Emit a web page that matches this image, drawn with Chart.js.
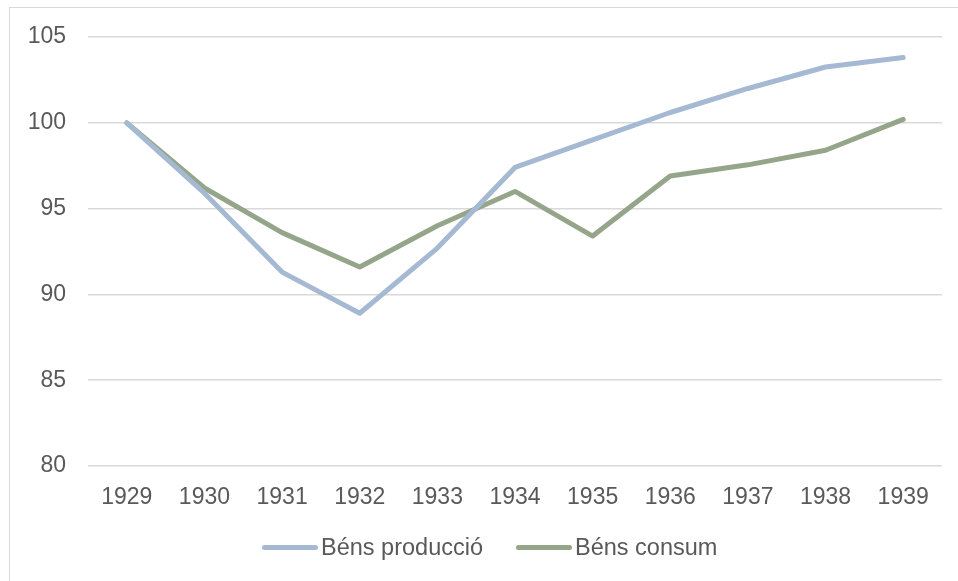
<!DOCTYPE html>
<html>
<head>
<meta charset="utf-8">
<script src="https://cdn.jsdelivr.net/npm/chart.js@4.4.1/dist/chart.umd.min.js"></script>
<style>
  html,body{margin:0;padding:0;background:#fff;overflow:hidden;}
  #wrap{position:relative;width:958px;height:581px;}
  #frame{position:absolute;left:9px;top:7px;width:1000px;height:700px;border:1.5px solid #d9d9d9;box-sizing:border-box;}
  #c{position:absolute;left:0;top:0;}
  #legend{position:absolute;left:262px;top:534px;display:flex;align-items:center;font-family:"Liberation Sans",Arial,sans-serif;font-size:23.5px;color:#595959;}
  #legend .item{display:flex;align-items:center;margin-right:33px;}
  #legend .sw{display:inline-block;width:56px;height:5px;border-radius:3px;margin-right:3px;}
</style>
</head>
<body>
<div id="wrap">
  <div id="frame"></div>
  <canvas id="c" width="958" height="581"></canvas>
  <div id="legend"></div>
</div>
<script>
// anys
const years=['1929','1930','1931','1932','1933','1934','1935','1936','1937','1938','1939'];
// índex 1929 = 100
const bensProduccio=[100,95.9,91.3,88.9,92.7,97.4,99.0,100.6,102.0,103.25,103.8];
const bensConsum   =[100,96.2,93.6,91.6,94.0,96.0,93.4,96.9,97.55,98.4,100.2];
const seriesNames=['Béns producció','Béns consum'];
const seriesColors=['#a5b9d2','#95a589'];
const yTicks=[80,85,90,95,100,105];

const font={family:'"Liberation Sans", Arial, sans-serif',size:23};

new Chart(document.getElementById('c'),{
  type:'line',
  data:{
    labels:years,
    datasets:[bensProduccio,bensConsum].map((d,i)=>({
      label:seriesNames[i],
      data:d,
      borderColor:seriesColors[i],
      backgroundColor:seriesColors[i],
      borderWidth:5,
      pointRadius:0,
      borderCapStyle:'round',
      borderJoinStyle:'round',
      tension:0,
    }))
  },
  options:{
    responsive:false,
    animation:false,
    layout:{padding:{top:37,right:16,bottom:55,left:0}},
    plugins:{legend:{display:false},tooltip:{enabled:false}},
    scales:{
      x:{
        offset:true,
        grid:{display:false},
        border:{display:false},
        ticks:{font,color:'#595959',padding:10,maxRotation:0,autoSkip:false},
        afterFit(s){s.height=60;}
      },
      y:{
        min:yTicks[0],max:yTicks[yTicks.length-1],
        afterBuildTicks(s){s.ticks=yTicks.map(v=>({value:v}));},
        grid:{color:'#d9d9d9',lineWidth:1.5,drawTicks:false},
        border:{display:false},
        ticks:{font,color:'#595959',padding:22},
        afterFit(s){s.width=88;}
      }
    }
  }
});

// llegenda
const lg=document.getElementById('legend');
seriesNames.forEach((n,i)=>{
  const it=document.createElement('span');it.className='item';
  it.innerHTML=`<span class="sw" style="background:${seriesColors[i]}"></span><span>${n}</span>`;
  lg.appendChild(it);
});
</script>
</body>
</html>
